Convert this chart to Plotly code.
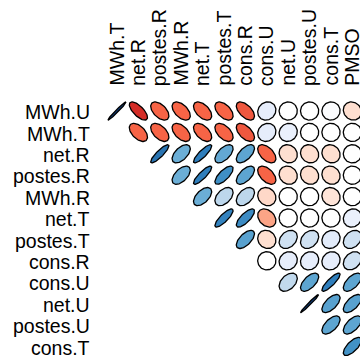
import numpy as np
import plotly.graph_objects as go
from plotly.colors import sample_colorscale

# Variables on the rows and on the columns (upper triangle, diagonal dropped)
row_labels = ["MWh.U", "MWh.T", "net.R", "postes.R", "MWh.R", "net.T",
              "postes.T", "cons.R", "cons.U", "net.U", "postes.U", "cons.T"]
col_labels = ["MWh.T", "net.R", "postes.R", "MWh.R", "net.T", "postes.T",
              "cons.R", "cons.U", "net.U", "postes.U", "cons.T", "PMSO"]

# Correlations, row by row, starting at the column facing the row
corr_mwh_u = [0.98, -0.70, -0.52, -0.52, -0.52, -0.52, -0.56, 0.12, 0.0, 0.0, 0.02, -0.12]
corr_mwh_t = [-0.52, -0.52, -0.52, -0.52, -0.52, -0.56, 0.12, 0.10, 0.0, 0.0, 0.0]
corr_net_r = [0.87, 0.55, 0.85, 0.58, 0.60, -0.52, -0.12, -0.12, -0.12, 0.0]
corr_postes_r = [0.55, 0.85, 0.72, 0.60, -0.52, -0.12, -0.12, -0.12, 0.0]
corr_mwh_r = [0.55, 0.45, 0.45, -0.14, 0.0, 0.0, -0.10, 0.0]
corr_net_t = [0.82, 0.75, -0.30, 0.0, 0.0, 0.0, 0.10]
corr_postes_t = [0.62, -0.12, 0.30, 0.30, 0.15, 0.30]
corr_cons_r = [0.0, 0.12, 0.12, 0.12, 0.30]
corr_cons_u = [0.42, 0.60, 0.85, 0.60]
corr_net_u = [0.98, 0.62, 0.62]
corr_postes_u = [0.60, 0.60]
corr_cons_t = [0.70]

corr_rows = [corr_mwh_u, corr_mwh_t, corr_net_r, corr_postes_r, corr_mwh_r,
             corr_net_t, corr_postes_t, corr_cons_r, corr_cons_u, corr_net_u,
             corr_postes_u, corr_cons_t]

# Diverging palette (reds for negative, blues for positive)
pal_vals = [-1.0, -0.8, -0.7, -0.5, -0.3, -0.12, 0.0, 0.12, 0.3, 0.45, 0.55, 0.7, 0.85, 1.0]
pal_cols = ["#67000D", "#A50F15", "#D42D27", "#FB6A4A", "#FCA486", "#FEDFD0", "#FFFFFF",
            "#E6EDFB", "#CFE1F2", "#BDD7EC", "#6BAED6", "#4292C6", "#2F7EBC", "#08306B"]
colorscale = [[(v + 1) / 2, c] for v, c in zip(pal_vals, pal_cols)]


def ellipse(rho, n=80, scale=0.85):
    k = np.linspace(0, 2 * np.pi, n)
    a = np.arccos(np.clip(rho, -1, 1))
    x = scale * np.cos(k + a / 2) / 2
    y = scale * np.cos(k - a / 2) / 2
    return x, y


fig = go.Figure()
for r, vals in enumerate(corr_rows):
    for i, rho in enumerate(vals):
        c = r + i
        ex, ey = ellipse(rho)
        fill = sample_colorscale(colorscale, [(rho + 1) / 2])[0]
        fig.add_trace(go.Scatter(
            x=c + ex, y=r - ey, mode="lines", fill="toself",
            fillcolor=fill, line=dict(color="black", width=1.3),
            hoverinfo="skip", showlegend=False))

font = dict(family="Liberation Sans, Arial, sans-serif", size=19.5, color="black")
for r, name in enumerate(row_labels):
    fig.add_annotation(x=-1.15, y=r + 0.06, text=name, showarrow=False,
                       xanchor="right", yanchor="middle", font=font)
for c, name in enumerate(col_labels):
    fig.add_annotation(x=c, y=-1.08, text=name, showarrow=False, textangle=-90,
                       xanchor="center", yanchor="bottom", font=font)

cell = 21.4
x0, y0 = 117.0, 111.0
fig.update_layout(
    width=360, height=358, margin=dict(l=0, r=0, t=0, b=0),
    plot_bgcolor="white", paper_bgcolor="white",
    xaxis=dict(range=[-x0 / cell, (360 - x0) / cell], visible=False, fixedrange=True),
    yaxis=dict(range=[(358 - y0) / cell, -y0 / cell], visible=False, fixedrange=True),
)
fig.write_html("out.html")
